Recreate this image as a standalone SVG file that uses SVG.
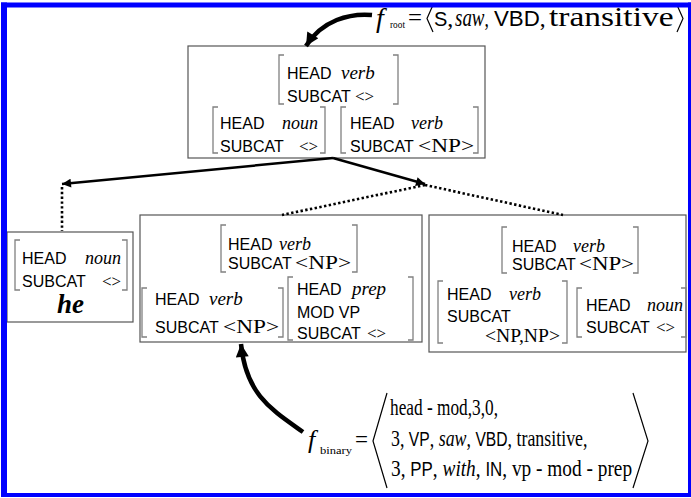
<svg xmlns="http://www.w3.org/2000/svg" width="691" height="498" viewBox="0 0 691 498">
<defs>
<style>
.sans{font-family:"Liberation Sans",Arial,sans-serif;font-size:16px;fill:#000}
.it{font-family:"Liberation Serif","Times New Roman",serif;font-style:italic;font-size:18px;fill:#000}
.ser{font-family:"Liberation Serif","Times New Roman",serif;font-size:17px;fill:#000}
.np{font-family:"Liberation Serif","Times New Roman",serif;font-size:18px;fill:#000}
.box{fill:none;stroke:#555;stroke-width:1.2}
.br{fill:none;stroke:#808080;stroke-width:1.3}
.conn{fill:none;stroke:#000;stroke-width:2.5}
.dot{fill:none;stroke:#000;stroke-width:2.6;stroke-dasharray:2.4 2.4}
.curve{fill:none;stroke:#000;stroke-width:4.5}
.fl{font-family:"Liberation Serif","Times New Roman",serif;font-size:24px;fill:#000}
.fs{font-family:"Liberation Sans",Arial,sans-serif;font-size:21px}
.fi{font-style:italic}
.fsub{font-family:"Liberation Serif","Times New Roman",serif;font-size:10px;fill:#000}
.ang{fill:none;stroke:#000;stroke-width:1.2}
</style>
<marker id="ah" viewBox="0 0 10 10" refX="10" refY="5" markerUnits="userSpaceOnUse" markerWidth="11" markerHeight="9" orient="auto"><path d="M0,0 L10,5 L0,10 z" fill="#000"/></marker>
<marker id="ahb" viewBox="0 0 10 10" refX="10" refY="5" markerUnits="userSpaceOnUse" markerWidth="15" markerHeight="13" orient="auto"><path d="M0,0 L10,5 L0,10 z" fill="#000"/></marker>
</defs>
<rect x="0" y="0" width="691" height="498" fill="#fff"/>

<!-- top formula -->
<g id="f-root">
<text class="fl fi" x="376" y="27" style="font-size:28px">f</text>
<text class="fsub" x="390" y="28" textLength="15" lengthAdjust="spacingAndGlyphs">root</text>
<text class="fl" x="408" y="26" style="font-size:26px" textLength="14" lengthAdjust="spacingAndGlyphs">=</text>
<polyline class="ang" points="433,5 427,18.5 433,32"/>
<text class="fl" x="434" y="26"><tspan class="fs" style="font-size:20px">S</tspan>,</text>
<g transform="translate(455,26) scale(0.73,1)"><text class="fl" x="0" y="0"><tspan class="fi" style="font-size:26px">saw</tspan>,</text></g>
<g transform="translate(494,26) scale(0.97,1)"><text class="fl" x="0" y="0"><tspan class="fs" style="font-size:23px">VBD</tspan>,</text></g>
<g transform="translate(549,26) scale(1.24,1)"><text class="fl" x="0" y="0" style="font-size:27px">transitive</text></g>
<polyline class="ang" points="677,5 683,18.5 677,32"/>
</g>

<!-- top node -->
<g id="node-root">
<rect class="box" x="188" y="46" width="297" height="112"/>
<path class="br" d="M284,55 H279 V104 H284 M393,55 H398 V104 H393"/>
<text class="sans" x="287" y="79">HEAD</text>
<text class="it" x="341" y="79" style="font-size:19px">verb</text>
<text class="sans" x="287" y="102">SUBCAT</text>
<text class="ser" x="355" y="102">&lt;&gt;</text>
<path class="br" d="M218,107 H213 V153 H218 M320,107 H325 V153 H320"/>
<text class="sans" x="220" y="129">HEAD</text>
<text class="it" x="282" y="129">noun</text>
<text class="sans" x="220" y="152">SUBCAT</text>
<text class="ser" x="299" y="152">&lt;&gt;</text>
<path class="br" d="M346,107 H341 V153 H346 M473,107 H478 V153 H473"/>
<text class="sans" x="350" y="129">HEAD</text>
<text class="it" x="411" y="129">verb</text>
<text class="sans" x="350" y="152">SUBCAT</text>
<text class="np" x="418" y="152" textLength="56" lengthAdjust="spacingAndGlyphs">&lt;NP&gt;</text>
</g>

<!-- left node -->
<g id="node-he">
<rect class="box" x="7" y="232" width="126" height="90"/>
<path class="br" d="M20,240 H15 V290 H20 M122,240 H127 V290 H122"/>
<text class="sans" x="22" y="264">HEAD</text>
<text class="it" x="85" y="264">noun</text>
<text class="sans" x="22" y="287">SUBCAT</text>
<text class="ser" x="102" y="287">&lt;&gt;</text>
<text x="57" y="313" style="font-family:'Liberation Serif','Times New Roman',serif;font-style:italic;font-weight:bold;font-size:27px">he</text>
</g>

<!-- middle node -->
<g id="node-saw-with">
<rect class="box" x="140" y="215" width="282" height="127"/>
<path class="br" d="M226,225 H221 V272 H226 M352,225 H357 V272 H352"/>
<text class="sans" x="228" y="250">HEAD</text>
<text class="it" x="279" y="250">verb</text>
<text class="sans" x="228" y="269">SUBCAT</text>
<text class="np" x="295" y="269" textLength="56" lengthAdjust="spacingAndGlyphs">&lt;NP&gt;</text>
<path class="br" d="M147,288 H142 V337 H147 M278,288 H283 V337 H278"/>
<text class="sans" x="155" y="305">HEAD</text>
<text class="it" x="209" y="305" style="font-size:19px">verb</text>
<text class="sans" x="155" y="333">SUBCAT</text>
<text class="np" x="223" y="333" textLength="56" lengthAdjust="spacingAndGlyphs">&lt;NP&gt;</text>
<path class="br" d="M293,277 H288 V340 H293 M408,277 H413 V340 H408"/>
<text class="sans" x="297" y="295">HEAD</text>
<text class="it" x="352" y="295" style="font-size:19px">prep</text>
<text class="sans" x="297" y="318">MOD  VP</text>
<text class="sans" x="297" y="339">SUBCAT</text>
<text class="ser" x="367" y="339">&lt;&gt;</text>
</g>

<!-- right node -->
<g id="node-ditrans">
<rect class="box" x="429" y="215" width="257" height="137"/>
<path class="br" d="M507,227 H502 V273 H507 M633,227 H638 V273 H633"/>
<text class="sans" x="512" y="252">HEAD</text>
<text class="it" x="573" y="252">verb</text>
<text class="sans" x="512" y="270">SUBCAT</text>
<text class="np" x="579" y="270" textLength="55" lengthAdjust="spacingAndGlyphs">&lt;NP&gt;</text>
<path class="br" d="M443,281 H438 V343 H443 M562,281 H567 V343 H562"/>
<text class="sans" x="447" y="300">HEAD</text>
<text class="it" x="509" y="300">verb</text>
<text class="sans" x="447" y="322">SUBCAT</text>
<text class="np" x="485" y="342" textLength="75" lengthAdjust="spacingAndGlyphs">&lt;NP,NP&gt;</text>
<path class="br" d="M582,288 H577 V337 H582 M681,288 H686 V337 H681"/>
<text class="sans" x="586" y="311">HEAD</text>
<text class="it" x="647" y="311">noun</text>
<text class="sans" x="586" y="333">SUBCAT</text>
<text class="ser" x="656" y="333">&lt;&gt;</text>
</g>

<!-- bottom formula -->
<g id="f-binary">
<text class="fl fi" x="308" y="448" style="font-size:26px">f</text>
<text class="fsub" x="320" y="454" textLength="32" lengthAdjust="spacingAndGlyphs">binary</text>
<text class="fl" x="355" y="447" textLength="13" lengthAdjust="spacingAndGlyphs">=</text>
<polyline class="ang" points="387,393 373,441 387,488"/>
<g transform="translate(390,415) scale(0.72,1)"><text class="fl" x="0" y="0">head - mod,3,0,</text></g>
<g transform="translate(391,446) scale(0.745,1)"><text class="fl" x="0" y="0">3, <tspan class="fs">VP</tspan>, <tspan class="fi">saw</tspan>, <tspan class="fs">VBD</tspan>, transitive,</text></g>
<g transform="translate(391,476) scale(0.805,1)"><text class="fl" x="0" y="0">3, <tspan class="fs">PP</tspan>, <tspan class="fi">with</tspan>, <tspan class="fs">IN</tspan>, vp - mod - prep</text></g>
<polyline class="ang" points="633,393 648,441 633,488"/>
</g>

<!-- connectors -->
<g id="connectors">
<path class="conn" d="M333,158 L62,184" marker-end="url(#ah)"/>
<path class="conn" d="M333,158 L425,184" marker-end="url(#ah)"/>
<path class="dot" d="M62,187 V231"/>
<path class="dot" d="M425,185 L282,215"/>
<path class="dot" d="M425,185 L563,215"/>
<path class="curve" d="M372,15 C350,13 322,20 306,46" marker-end="url(#ahb)"/>
<path class="curve" d="M303,432 C272,410 246,395 241,344" marker-end="url(#ahb)"/>
</g>

<!-- blue frame -->
<g id="frame" fill="#0000ff">
<rect x="1" y="2.5" width="690" height="5"/>
<rect x="1" y="2.5" width="6" height="494.5"/>
<rect x="688" y="2.5" width="3" height="494.5"/>
<rect x="1" y="493" width="690" height="4"/>
</g>
</svg>
